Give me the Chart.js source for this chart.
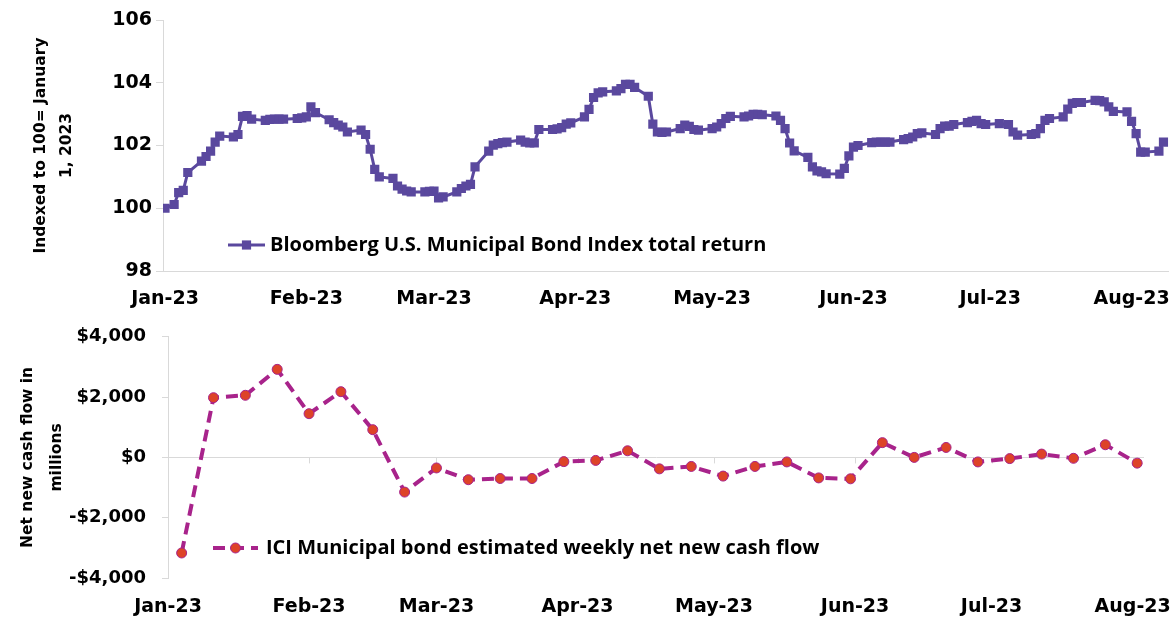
<!DOCTYPE html>
<html>
<head>
<meta charset="utf-8">
<script src="https://cdn.jsdelivr.net/npm/chart.js@4.4.0/dist/chart.umd.min.js"></script>
<style>
  html, body { margin: 0; padding: 0; background: #fff; }
  #wrap { position: relative; width: 1175px; height: 617px; overflow: hidden; }
  #top { position: absolute; left: 0; top: 0; }
  #bottom { position: absolute; left: 0; top: 310px; }
</style>
</head>
<body>
<div id="wrap">
  <canvas id="top" width="1175" height="310"></canvas>
  <canvas id="bottom" width="1175" height="307"></canvas>
</div>
<script>
// x positions are days since Jan 1, 2023
const monthDays = [0, 31, 59, 90, 120, 151, 181, 212];
const monthLabels = ["Jan-23", "Feb-23", "Mar-23", "Apr-23", "May-23", "Jun-23", "Jul-23", "Aug-23"];

// Bloomberg U.S. Municipal Bond Index total return, daily (business days)
const indexDays = [
  0, 2, 3, 4, 5,
  8, 9, 10, 11, 12,
  15, 16, 17, 18, 19,
  22, 23, 24, 25, 26,
  29, 30, 31, 32, 33,
  36, 37, 38, 39, 40,
  43, 44, 45, 46, 47,
  50, 51, 52, 53, 54,
  57, 58, 59, 60, 61,
  64, 65, 66, 67, 68,
  71, 72, 73, 74, 75,
  78, 79, 80, 81, 82,
  85, 86, 87, 88, 89,
  92, 93, 94, 95, 96,
  99, 100, 101, 102, 103,
  106, 107, 108, 109, 110,
  113, 114, 115, 116, 117,
  120, 121, 122, 123, 124,
  127, 128, 129, 130, 131,
  134, 135, 136, 137, 138,
  141, 142, 143, 144, 145,
  148, 149, 150, 151, 152,
  155, 156, 157, 158, 159,
  162, 163, 164, 165, 166,
  169, 170, 171, 172, 173,
  176, 177, 178, 179, 180,
  183, 185, 186, 187,
  190, 191, 192, 193, 194,
  197, 198, 199, 200, 201,
  204, 205, 206, 207, 208,
  211, 212, 213, 214, 215,
  218, 219
];
const indexValues = [
  100.00, 100.12, 100.50, 100.57, 101.14,
  101.50, 101.65, 101.82, 102.11, 102.30,
  102.27, 102.35, 102.93, 102.95, 102.84,
  102.80, 102.83, 102.84, 102.84, 102.84,
  102.86, 102.88, 102.91, 103.23, 103.05,
  102.82, 102.73, 102.65, 102.59, 102.43,
  102.49, 102.35, 101.88, 101.24, 101.00,
  100.95, 100.71, 100.61, 100.55, 100.52,
  100.52, 100.54, 100.55, 100.33, 100.36,
  100.52, 100.63, 100.71, 100.76, 101.32,
  101.82, 102.01, 102.06, 102.09, 102.11,
  102.17, 102.11, 102.08, 102.08, 102.51,
  102.51, 102.53, 102.57, 102.68, 102.72,
  102.91, 103.15, 103.53, 103.68, 103.71,
  103.74, 103.81, 103.95, 103.95, 103.85,
  103.57, 102.68, 102.43, 102.42, 102.43,
  102.54, 102.65, 102.61, 102.51, 102.49,
  102.54, 102.59, 102.70, 102.86, 102.93,
  102.91, 102.94, 102.99, 102.99, 102.98,
  102.94, 102.80, 102.54, 102.08, 101.83,
  101.62, 101.32, 101.19, 101.16, 101.10,
  101.09, 101.27, 101.67, 101.95, 102.00,
  102.09, 102.11, 102.11, 102.11, 102.11,
  102.19, 102.22, 102.27, 102.38, 102.40,
  102.35, 102.54, 102.62, 102.62, 102.67,
  102.73, 102.77, 102.80, 102.70, 102.67,
  102.70, 102.67, 102.43, 102.33,
  102.35, 102.38, 102.54, 102.80, 102.86,
  102.91, 103.16, 103.34, 103.37, 103.37,
  103.44, 103.43, 103.39, 103.23, 103.09,
  103.07, 102.77, 102.38, 101.79, 101.79,
  101.82, 102.11
];

// ICI municipal bond funds, estimated weekly net new cash flow ($ millions), Wednesdays
const flowDays = [3, 10, 17, 24, 31, 38, 45, 52, 59, 66, 73, 80, 87, 94, 101, 108,
  115, 122, 129, 136, 143, 150, 157, 164, 171, 178, 185, 192, 199, 206, 213];
const flowValues = [-3170, 1980, 2060, 2920, 1450, 2180, 920, -1150, -350, -740, -700,
  -700, -140, -100, 220, -380, -300, -620, -300, -150, -680, -710, 490, 0, 330,
  -150, -40, 110, -30, 420, -190];

const indexTicks = [98, 100, 102, 104, 106];
const flowTicks = [-4000, -2000, 0, 2000, 4000];

const purple = "#5a489e";
const magenta = "#a8238b";
const orange = "#dd4328";
const axisGray = "#d9d9d9";
const tickFont = { family: "'DejaVu Sans', Verdana, sans-serif", weight: "bold", size: 19 };
const titleFont = { family: "'DejaVu Sans', Verdana, sans-serif", weight: "bold", size: 15.5 };
const legendFont = "bold 20px 'Open Sans', sans-serif";

// legend drawn inside the plot, bottom-left
const inlineLegend = {
  id: "inlineLegend",
  afterDatasetsDraw(chart, args, opts) {
    const { ctx, chartArea } = chart;
    const ds = chart.data.datasets[0];
    const x = chartArea.left + opts.dx;
    const y = chartArea.bottom - opts.dy;
    ctx.save();
    ctx.strokeStyle = ds.borderColor;
    ctx.lineWidth = ds.borderWidth;
    ctx.setLineDash(ds.borderDash || []);
    ctx.beginPath();
    ctx.moveTo(x, y);
    ctx.lineTo(x + opts.len, y);
    ctx.stroke();
    ctx.setLineDash([]);
    const cx = x + opts.len / 2;
    ctx.fillStyle = ds.pointBackgroundColor;
    ctx.beginPath();
    if (ds.pointStyle === "rect") {
      const s = ds.pointRadius * Math.SQRT1_2;
      ctx.rect(cx - s, y - s, 2 * s, 2 * s);
      ctx.fill();
    } else {
      ctx.arc(cx, y, ds.pointRadius, 0, Math.PI * 2);
      ctx.fill();
      ctx.strokeStyle = ds.pointBorderColor;
      ctx.lineWidth = ds.pointBorderWidth;
      ctx.stroke();
    }
    ctx.fillStyle = "#000";
    ctx.font = legendFont;
    ctx.textBaseline = "middle";
    ctx.textAlign = "left";
    ctx.fillText(ds.label, x + opts.len + opts.gap, y);
    ctx.restore();
  },
};

// short month ticks hanging from the zero line
const zeroTicks = {
  id: "zeroTicks",
  beforeDatasetsDraw(chart) {
    const { ctx, scales } = chart;
    const y0 = scales.y.getPixelForValue(0);
    ctx.save();
    ctx.strokeStyle = axisGray;
    ctx.lineWidth = 1;
    monthDays.forEach((d) => {
      if (d === 0) return;
      const x = Math.round(scales.x.getPixelForValue(d)) + 0.5;
      ctx.beginPath();
      ctx.moveTo(x, y0);
      ctx.lineTo(x, y0 + 6);
      ctx.stroke();
    });
    ctx.restore();
  },
};

function monthAxis(min, max, padding, showBorder) {
  return {
    type: "linear",
    min,
    max,
    afterBuildTicks: (axis) => {
      axis.ticks = monthDays.map((v) => ({ value: v }));
    },
    afterFit: (axis) => {
      axis.height = 39;
      // labels may overhang the plot edges, as in the original
      axis.paddingLeft = 0;
      axis.paddingRight = 0;
    },
    ticks: {
      autoSkip: false,
      maxRotation: 0,
      padding,
      color: "#000",
      font: tickFont,
      callback: (v, i) => monthLabels[i],
    },
    grid: { display: false, drawTicks: false },
    border: { display: showBorder, color: axisGray, width: 1 },
  };
}

new Chart(document.getElementById("top"), {
  type: "line",
  data: {
    datasets: [{
      label: "Bloomberg U.S. Municipal Bond Index total return",
      data: indexDays.map((d, i) => ({ x: d, y: indexValues[i] })),
      borderColor: purple,
      borderWidth: 3,
      pointStyle: "rect",
      pointRadius: 6.5,
      pointBackgroundColor: purple,
      pointBorderColor: purple,
      pointBorderWidth: 0,
      tension: 0,
    }],
  },
  options: {
    responsive: false,
    animation: false,
    devicePixelRatio: 1,
    layout: { padding: { top: 20, right: 2, left: 0, bottom: 0 } },
    plugins: {
      legend: { display: false },
      tooltip: { enabled: false },
      inlineLegend: { dx: 65, dy: 26, len: 37, gap: 5 },
    },
    scales: {
      x: monthAxis(-0.44, 220.1, 16.4, true),
      y: {
        min: 98,
        max: 106,
        afterBuildTicks: (axis) => {
          axis.ticks = indexTicks.map((v) => ({ value: v }));
        },
        afterFit: (axis) => {
          axis.width = 163;
        },
        ticks: { color: "#000", font: tickFont, padding: 4 },
        grid: { drawOnChartArea: false, tickLength: 7, tickColor: axisGray },
        border: { color: axisGray, width: 1 },
        title: {
          display: true,
          text: ["Indexed to 100= January", "1, 2023"],
          color: "#000",
          font: { ...titleFont, lineHeight: "26px" },
          padding: { top: 27.5, bottom: 0 },
        },
      },
    },
  },
  plugins: [inlineLegend],
});

new Chart(document.getElementById("bottom"), {
  type: "line",
  data: {
    datasets: [{
      label: "ICI Municipal bond estimated weekly net new cash flow",
      data: flowDays.map((d, i) => ({ x: d, y: flowValues[i] })),
      borderColor: magenta,
      borderWidth: 4,
      borderDash: [12, 7],
      pointStyle: "circle",
      pointRadius: 5,
      pointBackgroundColor: orange,
      pointBorderColor: magenta,
      pointBorderWidth: 1,
      tension: 0,
    }],
  },
  options: {
    responsive: false,
    animation: false,
    devicePixelRatio: 1,
    layout: { padding: { top: 21, right: 31, left: 0, bottom: 0 } },
    plugins: {
      legend: { display: false },
      tooltip: { enabled: false },
      inlineLegend: { dx: 45, dy: 30, len: 45, gap: 8 },
    },
    scales: {
      x: monthAxis(0, 214.5, 17.2, false),
      y: {
        min: -4000,
        max: 4000,
        afterBuildTicks: (axis) => {
          axis.ticks = flowTicks.map((v) => ({ value: v }));
        },
        afterFit: (axis) => {
          axis.width = 168;
        },
        ticks: {
          color: "#000",
          font: { ...tickFont, size: 18 },
          padding: 16,
          callback: (v) => (v < 0 ? "-$" : "$") + Math.abs(v).toLocaleString("en-US"),
        },
        grid: {
          color: (c) => (c.tick && c.tick.value === 0 ? axisGray : "rgba(0,0,0,0)"),
          tickLength: 6,
          tickColor: axisGray,
        },
        border: { color: axisGray, width: 1 },
        title: {
          display: true,
          text: ["Net new cash flow in", "millions"],
          color: "#000",
          font: { ...titleFont, lineHeight: "29px" },
          padding: { top: 13, bottom: 0 },
        },
      },
    },
  },
  plugins: [inlineLegend, zeroTicks],
});
</script>
</body>
</html>
